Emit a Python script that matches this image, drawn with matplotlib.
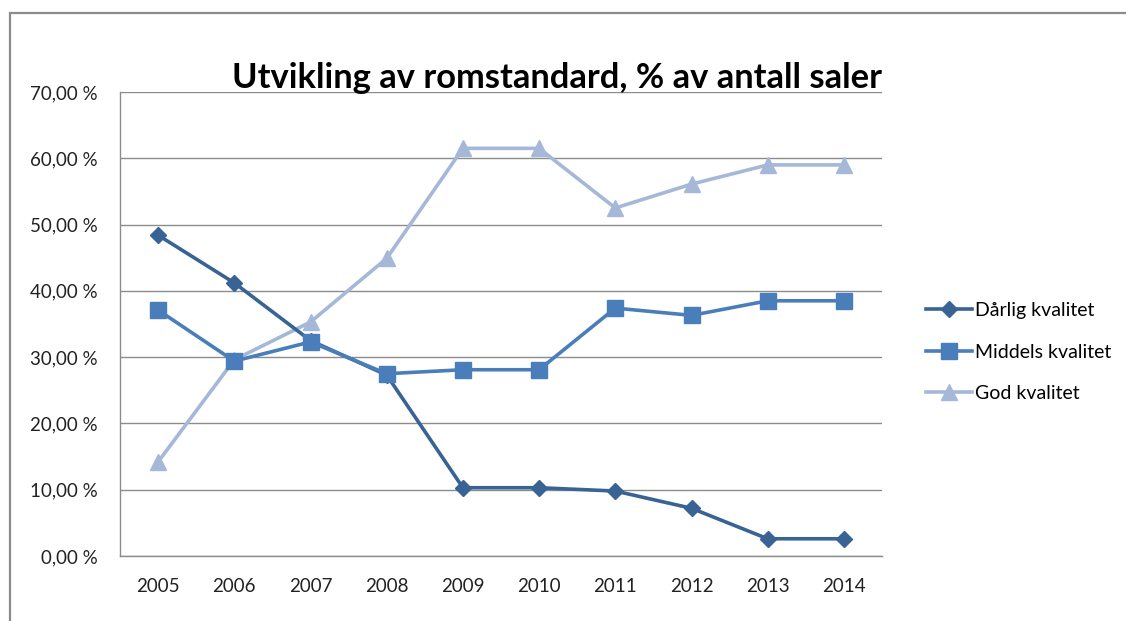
import matplotlib
matplotlib.use("Agg")
import matplotlib.pyplot as plt
from matplotlib.patches import Rectangle
from matplotlib.ticker import FuncFormatter

plt.rcParams['font.family'] = ['Lato', 'DejaVu Sans']

years = ["2005", "2006", "2007", "2008", "2009", "2010", "2011", "2012", "2013", "2014"]
darlig = [48.4, 41.2, 32.5, 27.3, 10.3, 10.3, 9.8, 7.2, 2.6, 2.6]
middels = [37.1, 29.4, 32.3, 27.5, 28.1, 28.1, 37.4, 36.3, 38.5, 38.5]
god = [14.2, 29.6, 35.3, 44.9, 61.5, 61.5, 52.5, 56.1, 59.0, 59.0]
yticks = [0, 10, 20, 30, 40, 50, 60, 70]

W, H = 1126, 621
fig = plt.figure(figsize=(W / 100, H / 100), dpi=100)
fig.patch.set_facecolor('white')

# outer frame
fig.patches.append(Rectangle((10 / W, -0.1), 1.2, 1 - 13 / H + 0.1, transform=fig.transFigure,
                             fill=False, edgecolor='#8c8c8c', linewidth=1.6))

ax = fig.add_axes([120 / W, 1 - 556 / H, (882 - 120) / W, (556 - 92) / H])
x = list(range(len(years)))

ax.plot(x, god, color='#a5b8d8', linewidth=2.6, marker='^', markersize=11,
        markeredgecolor='#a5b8d8', label='God kvalitet', zorder=3)
ax.plot(x, darlig, color='#386394', linewidth=2.6, marker='D', markersize=8,
        markeredgecolor='#386394', label='Dårlig kvalitet', zorder=4)
ax.plot(x, middels, color='#4a7ebb', linewidth=2.6, marker='s', markersize=11,
        markeredgecolor='#4a7ebb', label='Middels kvalitet', zorder=5)

ax.set_xlim(-0.5, len(years) - 0.5)
ax.set_ylim(0, 70)
ax.set_yticks(yticks)
ax.yaxis.set_major_formatter(FuncFormatter(lambda v, p: f"{v:.2f}".replace('.', ',') + " %"))
ax.set_xticks(x)
ax.set_xticklabels(years)
ax.tick_params(axis='both', length=0, labelsize=13.5, colors='#222222')
ax.tick_params(axis='x', pad=16)
ax.tick_params(axis='y', pad=16)
ax.grid(axis='y', color='#8c8c8c', linewidth=1)
ax.set_axisbelow(True)
for s in ['top', 'right']:
    ax.spines[s].set_visible(False)
for s in ['left', 'bottom']:
    ax.spines[s].set_color('#8c8c8c')
    ax.spines[s].set_linewidth(1)

fig.text(557 / W, 1 - 88 / H, "Utvikling av romstandard, % av antall saler", ha='center', va='baseline',
         fontsize=24.8, fontweight='bold', color='#000000')

handles, labels = ax.get_legend_handles_labels()
order = [1, 2, 0]
leg = fig.legend([handles[i] for i in order], [labels[i] for i in order],
                 loc='center left', bbox_to_anchor=(908 / W, 1 - 352 / H), frameon=False,
                 fontsize=14, labelspacing=1.25, handlelength=2.4, handletextpad=0.15)

fig.savefig("out.png", dpi=100)
